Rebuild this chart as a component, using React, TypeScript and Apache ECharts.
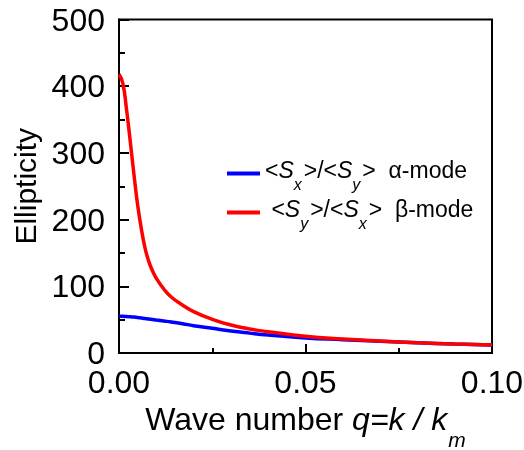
import React, { useEffect, useRef } from "react";
import * as echarts from "echarts";

const qValues = [0, 0.001, 0.002, 0.003, 0.004, 0.005, 0.006, 0.007, 0.008, 0.009, 0.01, 0.012, 0.014, 0.017, 0.02, 0.025, 0.03, 0.035, 0.04, 0.05, 0.06, 0.07, 0.08, 0.09, 0.1];
const alphaValues = [55, 55, 54.7, 54.3, 53.8, 53.2, 52.5, 51.8, 51, 50.3, 49.5, 48, 46.5, 44, 41, 37, 33, 29.8, 27, 22.5, 20, 17.5, 15.3, 13.5, 12];
const betaValues = [418, 405, 366, 318, 268, 222, 186, 157, 137, 123, 112, 96, 84, 72, 62, 50.5, 42, 36, 32, 25, 21, 18, 15.5, 13.5, 12];
const xTicks = [0, 0.05, 0.1];
const yTicks = [0, 100, 200, 300, 400, 500];
const seriesNames = ["alpha", "beta"];

const FONT = "'Liberation Sans', Arial, sans-serif";

export default function App() {
  const ref = useRef<HTMLDivElement>(null);
  useEffect(() => {
    if (!ref.current) return;
    const chart = echarts.init(ref.current, null, { renderer: "svg" });
    const pairs = (ys: number[]) => qValues.map((q, i) => [q, ys[i]]);
    const legendRich = {
      t: { fontSize: 23, fontFamily: FONT, color: "#000", lineHeight: 30, verticalAlign: "top" },
      i: { fontSize: 23, fontFamily: FONT, color: "#000", fontStyle: "italic", lineHeight: 30, verticalAlign: "top" },
      s: { fontSize: 16, fontFamily: FONT, color: "#000", fontStyle: "italic", lineHeight: 16, padding: [18, 2, 0, 0], verticalAlign: "top" },
    };
    chart.setOption({
      animation: false,
      grid: {
        left: 119,
        right: 32,
        top: 19.5,
        bottom: 97,
        show: true,
        borderColor: "#000",
        borderWidth: 2,
        outerBoundsMode: "none",
        containLabel: false,
      },
      legend: {
        data: seriesNames,
        orient: "vertical",
        left: 222,
        top: 153.5,
        itemWidth: 33,
        itemHeight: 4,
        itemGap: 5,
        icon: "rect",
        formatter: (name: string) =>
          name === "alpha"
            ? "{t|<}{i|S}{s|x}{t|>/<}{i|S}{s|y}{t|>  α-mode}"
            : "{t| <}{i|S}{s|y}{t|>/<}{i|S}{s|x}{t|>  β-mode}",
        textStyle: { rich: legendRich, fontFamily: FONT, fontSize: 23, color: "#000" },
      },
      xAxis: {
        type: "value",
        min: 0,
        max: 0.1,
        interval: 0.05,
        name: "{t|Wave number }{i|q=k / k}{s|m}",
        nameLocation: "middle",
        nameGap: 49,
        nameTextStyle: {
          fontSize: 32,
          fontFamily: FONT,
          color: "#000",
          rich: {
            t: { fontSize: 32, fontFamily: FONT, color: "#000", lineHeight: 32, verticalAlign: "top" },
            i: { fontSize: 32, fontFamily: FONT, color: "#000", fontStyle: "italic", lineHeight: 32, verticalAlign: "top" },
            s: { fontSize: 21, fontFamily: FONT, color: "#000", fontStyle: "italic", lineHeight: 21, padding: [26, 0, 0, 1], verticalAlign: "top" },
          },
        },
        axisLine: { show: true, lineStyle: { color: "#000", width: 2 } },
        axisTick: { show: true, inside: true, length: 9, lineStyle: { color: "#000", width: 2 } },
        minorTick: { show: true, splitNumber: 2, length: 5, lineStyle: { color: "#000", width: 2 } },
        splitLine: { show: false },
        axisLabel: {
          fontSize: 32,
          fontFamily: FONT,
          color: "#000",
          margin: 13,
          customValues: xTicks,
          formatter: (v: number) => v.toFixed(2),
        },
      },
      yAxis: {
        type: "value",
        min: 0,
        max: 500,
        interval: 100,
        name: "Ellipticity",
        nameLocation: "middle",
        nameGap: 74,
        nameRotate: 90,
        nameTextStyle: { fontSize: 30, fontFamily: FONT, color: "#000" },
        axisLine: { show: true, lineStyle: { color: "#000", width: 2 } },
        axisTick: { show: true, inside: true, length: 10, lineStyle: { color: "#000", width: 2 } },
        minorTick: { show: true, splitNumber: 2, length: 6, lineStyle: { color: "#000", width: 2 } },
        splitLine: { show: false },
        axisLabel: {
          fontSize: 32,
          fontFamily: FONT,
          color: "#000",
          margin: 14,
          customValues: yTicks,
        },
      },
      series: [
        {
          name: seriesNames[0],
          type: "line",
          data: pairs(alphaValues),
          smooth: 0.5,
          showSymbol: false,
          symbol: "none",
          lineStyle: { color: "#0000ff", width: 3.5 },
          itemStyle: { color: "#0000ff" },
        },
        {
          name: seriesNames[1],
          type: "line",
          data: pairs(betaValues),
          smooth: 0.5,
          showSymbol: false,
          symbol: "none",
          lineStyle: { color: "#ff0000", width: 3.5 },
          itemStyle: { color: "#ff0000" },
        },
      ],
    });
    return () => chart.dispose();
  }, []);
  return <div ref={ref} style={{ position: "fixed", left: 0, top: 0, width: 524, height: 450 }} />;
}
